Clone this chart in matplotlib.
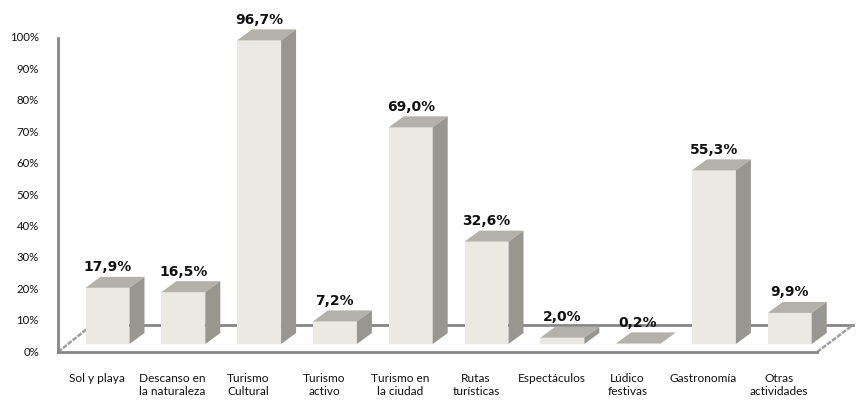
import matplotlib.pyplot as plt
from matplotlib.patches import Polygon

categorias = ["Sol y playa", "Descanso en\nla naturaleza", "Turismo\nCultural",
              "Turismo\nactivo", "Turismo en\nla ciudad", "Rutas\nturísticas",
              "Espectáculos", "Lúdico\nfestivas", "Gastronomía", "Otras\nactividades"]
valores = [17.9, 16.5, 96.7, 7.2, 69.0, 32.6, 2.0, 0.2, 55.3, 9.9]
etiquetas = ["17,9%", "16,5%", "96,7%", "7,2%", "69,0%", "32,6%", "2,0%", "0,2%", "55,3%", "9,9%"]
ticks_y = list(range(0, 101, 10))

# colores de las caras
c_frente = "#ECE8E2"
c_arriba = "#B4B0AA"
c_lado = "#989691"
c_linea = "#868686"

plt.rcParams['font.family'] = ['Lato', 'DejaVu Sans']

fig = plt.figure(figsize=(8.6, 4.01), dpi=100)
ax = fig.add_axes([0, 0, 1, 1])
ax.set_xlim(-1.418, 9.927)
ax.set_ylim(-18.15, 109.55)
ax.axis("off")

# geometria "3D"
w = 0.58      # ancho de la barra
dx = 0.198    # profundidad en x
dy = 3.5      # profundidad en y
front_y = -2.55
back_y = 6.05
x_izq = -0.653
x_der = 9.36
x_fondo_izq = -0.205
x_fondo_der = 9.835

# suelo y ejes
ax.plot([x_fondo_izq, x_fondo_der], [back_y, back_y], color=c_linea, lw=2, zorder=1)
ax.plot([x_izq, x_fondo_izq], [front_y, back_y], color="#a0a0a0", lw=1.8, ls=(0, (2, 0.5)), zorder=1)
ax.plot([x_der, x_fondo_der], [front_y, back_y], color="#a0a0a0", lw=1.8, ls=(0, (2, 0.5)), zorder=1)
ax.plot([x_izq, x_der], [front_y, front_y], color=c_linea, lw=2, zorder=1)
ax.plot([x_izq, x_izq], [front_y, 100 + front_y], color=c_linea, lw=2, zorder=1)

for t in ticks_y:
    ax.text(-0.904, t + front_y, f"{t}%", ha="right", va="center", fontsize=8.2, color="#111111")

for i, v in enumerate(valores):
    x0 = i - w / 2
    x1 = i + w / 2
    ax.bar(i, v, width=w, color=c_frente, edgecolor="none", zorder=3)
    ax.add_patch(Polygon([(x0, v), (x1, v), (x1 + dx, v + dy), (x0 + dx, v + dy)],
                         closed=True, facecolor=c_arriba, edgecolor="none", zorder=3))
    ax.add_patch(Polygon([(x1, 0), (x1 + dx, dy), (x1 + dx, v + dy), (x1, v)],
                         closed=True, facecolor=c_lado, edgecolor="none", zorder=3))
    ax.text(i, v + dy + 0.8, etiquetas[i], ha="center", va="bottom", fontsize=10,
            fontweight="bold", family="DejaVu Sans", color="#111111", zorder=5)
    ax.text(i - 0.14, -9.2, categorias[i], ha="center", va="top", fontsize=8.6,
            linespacing=1.2, color="#111111")

fig.savefig("out.png", dpi=100)
